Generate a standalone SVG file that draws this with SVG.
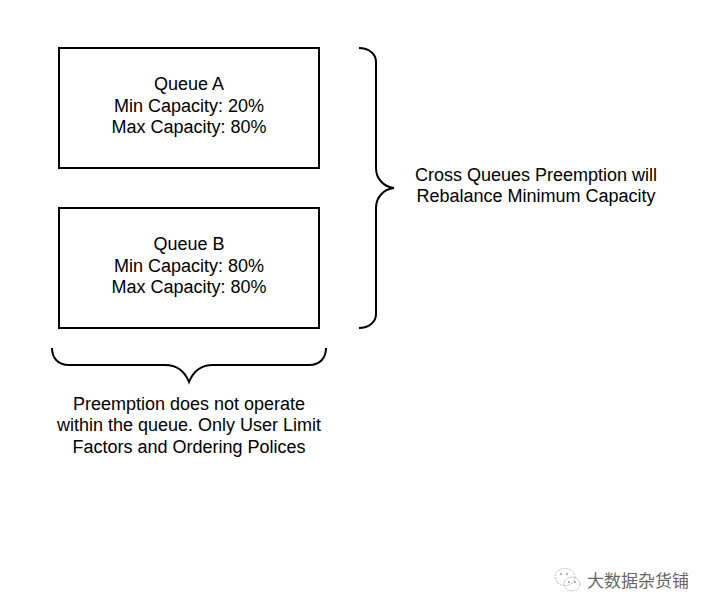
<svg xmlns="http://www.w3.org/2000/svg" width="711" height="612" viewBox="0 0 711 612">
<style>
.n{fill:#fff;stroke:#000;stroke-width:2}
.b{fill:none;stroke:#000;stroke-width:2}
text{font-family:"Liberation Sans",Arial,sans-serif;font-size:18px;fill:#000;text-anchor:middle}
.w{font-family:"Noto Sans CJK SC",sans-serif;font-size:17px;fill:#666}
.i{fill:none;stroke:#bbb;stroke-width:1;stroke-dasharray:2 1}
.e{fill:#999}
</style>
<rect width="711" height="612" fill="#fff"/>
<g id="queue-a"><rect class="n" x="59" y="48" width="260" height="120"/>
<text x="189" y="90">Queue A</text><text x="189" y="112">Min Capacity: 20%</text><text x="189" y="133">Max Capacity: 80%</text></g>
<g id="queue-b"><rect class="n" x="59" y="208" width="260" height="120"/>
<text x="189" y="250">Queue B</text><text x="189" y="272">Min Capacity: 80%</text><text x="189" y="293">Max Capacity: 80%</text></g>
<g id="connectors">
<path class="b" d="M359 48C369 48 376 54 376 62V168C376 179 384 187 394 188C384 189 376 197 376 208V314C376 322 369 328 359 328"/>
<path class="b" d="M52 348C52 358 58 365 69 365H165C177 365 185 372 189 382C193 372 201 365 213 365H309C320 365 326 358 326 348"/>
</g>
<g id="right-label"><text x="536" y="181">Cross Queues Preemption will</text><text x="536" y="202">Rebalance Minimum Capacity</text></g>
<g id="bottom-label"><text x="189" y="410">Preemption does not operate</text><text x="189" y="431">within the queue. Only User Limit</text><text x="189" y="453">Factors and Ordering Polices</text></g>
<g id="watermark"><ellipse class="i" cx="565" cy="577" rx="10" ry="8.5"/><ellipse class="i" cx="572" cy="584" rx="8" ry="7" fill="#fff"/>
<circle class="e" cx="561" cy="574" r="1"/><circle class="e" cx="567" cy="574" r="1"/><circle class="e" cx="569" cy="582" r="1"/><circle class="e" cx="575" cy="582" r="1"/>
<text class="w" x="638" y="587">大数据杂货铺</text></g>
</svg>
